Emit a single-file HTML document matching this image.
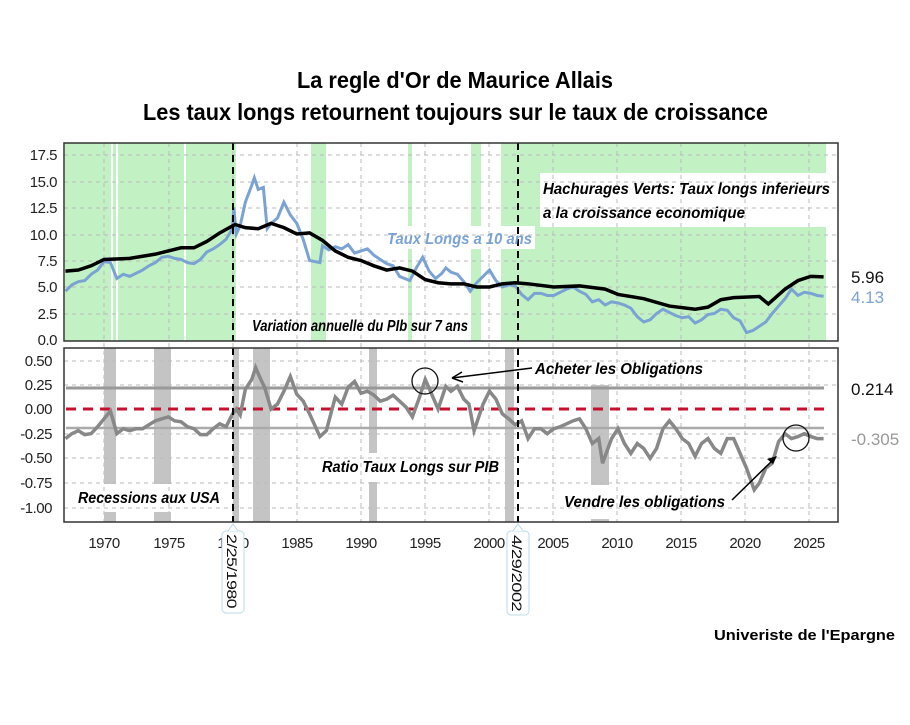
<!DOCTYPE html>
<html><head><meta charset="utf-8"><style>
body{margin:0;background:#fff;width:910px;height:720px;overflow:hidden}
svg{font-family:"Liberation Sans",sans-serif}
.t{font-weight:bold;font-size:23px}
.ax{font-size:15px;fill:#222;letter-spacing:-0.5px}
.it{font-style:italic;font-weight:bold;font-size:16px}
</style></head><body>
<svg width="910" height="720" viewBox="0 0 910 720">
<text class="t" x="297" y="88" textLength="316" lengthAdjust="spacingAndGlyphs">La regle d'Or de Maurice Allais</text>
<text class="t" x="143" y="120" textLength="625" lengthAdjust="spacingAndGlyphs">Les taux longs retournent toujours sur le taux de croissance</text>

<!-- TOP PANEL -->
<g fill="#c2f2c4">
<rect x="65" y="143" width="46" height="198"/><rect x="113" y="143" width="3" height="198"/>
<rect x="118" y="143" width="66" height="198"/><rect x="186" y="143" width="50" height="198"/>
<rect x="311" y="143" width="15" height="198"/><rect x="408" y="143" width="4" height="198"/>
<rect x="471" y="143" width="10" height="198"/><rect x="501" y="143" width="325" height="198"/>
</g>
<rect x="540" y="173" width="292" height="54" fill="#fff"/>
<rect x="385" y="226" width="150" height="23" fill="#fff"/>
<g stroke="#bbb" stroke-dasharray="4,4" stroke-width="1">
<line x1="64" x2="838" y1="155" y2="155"/><line x1="64" x2="838" y1="182" y2="182"/><line x1="64" x2="838" y1="208" y2="208"/><line x1="64" x2="838" y1="235" y2="235"/><line x1="64" x2="838" y1="261" y2="261"/><line x1="64" x2="838" y1="287" y2="287"/><line x1="64" x2="838" y1="314" y2="314"/>
<line x1="104" x2="104" y1="143" y2="522"/><line x1="169" x2="169" y1="143" y2="522"/><line x1="233" x2="233" y1="143" y2="522"/><line x1="297" x2="297" y1="143" y2="522"/><line x1="361" x2="361" y1="143" y2="522"/><line x1="425" x2="425" y1="143" y2="522"/><line x1="489" x2="489" y1="143" y2="522"/><line x1="553" x2="553" y1="143" y2="522"/><line x1="617" x2="617" y1="143" y2="522"/><line x1="681" x2="681" y1="143" y2="522"/><line x1="745" x2="745" y1="143" y2="522"/><line x1="809" x2="809" y1="143" y2="522"/>
</g>
<g transform="matrix(12.85,0,0,-10.6,-795.5,340)" fill="none">
<polyline vector-effect="non-scaling-stroke" stroke="#7aa3d4" stroke-width="3" points="67,4.6 67.5,5.2 68,5.5 68.5,5.6 69,6.2 69.5,6.6 70,7.4 70.5,7.3 71,5.8 71.5,6.2 72,6.0 72.5,6.3 73,6.6 73.5,7.0 74,7.3 74.5,7.8 75,7.9 75.5,7.7 76,7.6 76.5,7.3 77,7.2 77.5,7.6 78,8.3 78.5,8.6 79,9.0 79.5,9.5 80,10.5 80.1,12.5 80.3,10.0 80.6,10.8 81,13.0 81.5,14.6 81.7,15.3 82,14.2 82.4,14.4 82.7,10.5 83,11.0 83.5,11.5 84,13.0 84.5,11.8 85,11.0 85.5,9.5 86,7.5 86.8,7.3 87,8.9 87.5,8.5 88,8.8 88.5,8.6 89,9.0 89.5,8.2 90,8.4 90.5,8.6 91,8.0 91.5,7.6 92,7.2 92.5,7.0 93,6.0 93.8,5.6 94.3,6.8 94.8,7.8 95.3,6.5 95.8,5.8 96.3,6.3 96.6,6.8 97,6.4 97.5,6.2 98,5.5 98.5,4.6 99,5.4 99.5,6.0 100,6.6 100.5,5.6 101,5.0 101.5,5.2 102,5.1 102.5,4.3 103,3.8 103.5,4.4 104,4.4 104.5,4.2 105,4.2 105.5,4.5 106,4.8 106.5,5.0 107,4.6 107.5,4.3 108,3.6 108.5,3.8 109,3.3 109.5,3.6 110,3.5 110.5,3.3 111,3.0 111.5,2.2 112,1.7 112.5,1.9 113,2.5 113.5,2.9 114,2.6 114.5,2.3 115,2.1 115.5,2.2 116,1.6 116.5,1.9 117,2.4 117.5,2.5 118,2.9 118.5,2.8 119,2.1 119.5,1.8 120,0.7 120.5,0.9 121,1.3 121.5,1.7 122,2.5 122.5,3.2 123,3.9 123.5,4.8 124,4.2 124.5,4.5 125,4.4 125.5,4.2 126,4.13"/>
<polyline vector-effect="non-scaling-stroke" stroke="#000" stroke-width="3.5" points="67,6.5 68,6.6 69,7.0 70,7.6 72,7.7 74,8.1 76,8.7 77,8.7 78,9.3 79,10.1 80.2,10.9 81,10.6 82,10.5 83,11.0 84,10.6 85,10.0 86,10.1 87,9.4 88,8.4 89,7.8 90,7.5 91,7.0 92,6.6 93,6.8 94,6.5 95,5.7 96,5.4 97,5.3 98,5.3 99,5.0 100,5.0 101,5.3 102,5.4 103,5.3 105,5.0 107,5.1 109,4.8 110,4.3 112,3.9 114,3.2 116,2.9 117,3.1 118,3.8 119,4.0 121,4.1 121.7,3.4 123,4.8 124,5.6 125,6.0 126,5.96"/>
</g>
<line x1="233" x2="233" y1="143" y2="341" stroke="#000" stroke-width="2" stroke-dasharray="7,5"/>
<line x1="518" x2="518" y1="143" y2="341" stroke="#000" stroke-width="2" stroke-dasharray="7,5"/>
<rect x="64" y="143" width="774" height="198" fill="none" stroke="#333" stroke-width="1.5"/>
<g class="ax" text-anchor="end">
<text x="57" y="160">17.5</text><text x="57" y="187">15.0</text><text x="57" y="213">12.5</text><text x="57" y="240">10.0</text><text x="57" y="266">7.5</text><text x="57" y="292">5.0</text><text x="57" y="319">2.5</text><text x="57" y="345">0.0</text>
</g>
<text class="it" x="543" y="194" textLength="287" lengthAdjust="spacingAndGlyphs">Hachurages Verts: Taux longs inferieurs</text>
<text class="it" x="543" y="218" textLength="202" lengthAdjust="spacingAndGlyphs">a la croissance economique</text>
<text class="it" x="387" y="244" fill="#7aa3d4" font-weight="normal" textLength="145" lengthAdjust="spacingAndGlyphs">Taux Longs a 10 ans</text>
<text class="it" x="252" y="331" textLength="216" lengthAdjust="spacingAndGlyphs">Variation annuelle du PIb sur 7 ans</text>
<text x="851" y="283" font-size="17" fill="#111">5.96</text>
<text x="851" y="303" font-size="17" fill="#7aa3d4">4.13</text>

<!-- BOTTOM PANEL -->
<g fill="#c4c4c4">
<rect x="104" y="348" width="12" height="136"/><rect x="104" y="512" width="12" height="10"/>
<rect x="154" y="348" width="17" height="136"/><rect x="154" y="512" width="17" height="10"/>
<rect x="233" y="348" width="6" height="174"/><rect x="253" y="348" width="17" height="174"/>
<rect x="369" y="348" width="8" height="105"/><rect x="369" y="482" width="8" height="40"/>
<rect x="505" y="348" width="9" height="174"/>
<rect x="591" y="385" width="18" height="100"/><rect x="591" y="519" width="18" height="3"/>
</g>
<g stroke="#bbb" stroke-dasharray="4,4" stroke-width="1">
<line x1="64" x2="838" y1="361" y2="361"/><line x1="64" x2="838" y1="385" y2="385"/><line x1="64" x2="838" y1="434" y2="434"/><line x1="64" x2="838" y1="458" y2="458"/><line x1="64" x2="838" y1="483" y2="483"/><line x1="64" x2="838" y1="508" y2="508"/>
</g>
<line x1="66" x2="824" y1="388" y2="388" stroke="#999" stroke-width="3"/>
<line x1="66" x2="824" y1="428" y2="428" stroke="#aaa" stroke-width="2.5"/>
<line x1="66" x2="824" y1="409" y2="409" stroke="#c8102e" stroke-width="3" stroke-dasharray="10,7"/>
<g transform="matrix(12.85,0,0,-98.6,-795.5,409)" fill="none">
<polyline vector-effect="non-scaling-stroke" stroke="#888" stroke-width="3.5" points="67,-0.3 67.5,-0.25 68,-0.22 68.5,-0.26 69,-0.25 69.5,-0.18 70,-0.1 70.5,-0.02 71,-0.25 71.5,-0.2 72,-0.22 72.5,-0.2 73,-0.2 73.5,-0.16 74,-0.12 74.5,-0.1 75,-0.08 75.5,-0.12 76,-0.13 76.5,-0.18 77,-0.2 77.5,-0.26 78,-0.26 78.5,-0.2 79,-0.15 79.5,-0.18 80,-0.05 80.3,0.0 80.6,-0.06 81,0.2 81.5,0.3 81.8,0.42 82.2,0.3 82.5,0.22 83,0.0 83.5,0.05 84,0.18 84.5,0.33 85,0.15 85.5,0.08 86,-0.05 86.8,-0.28 87.3,-0.22 88,0.12 88.5,0.05 89,0.22 89.5,0.28 90,0.16 90.5,0.18 91,0.14 91.5,0.08 92,0.1 92.5,0.14 93,0.08 93.5,0.02 94,-0.08 94.5,0.1 95,0.3 95.6,0.12 96,0.0 96.6,0.23 97,0.18 97.5,0.23 98,0.1 98.4,0.05 98.8,-0.22 99.5,0.05 100,0.18 100.5,0.1 101,-0.05 101.5,-0.1 102,-0.16 102.5,-0.12 103,-0.3 103.5,-0.2 104,-0.2 104.5,-0.25 105,-0.2 105.5,-0.18 106,-0.15 106.5,-0.12 107,-0.1 107.5,-0.2 108,-0.35 108.5,-0.3 108.8,-0.55 109.5,-0.3 110,-0.2 110.5,-0.35 111,-0.45 111.5,-0.35 112,-0.4 112.5,-0.5 113,-0.4 113.5,-0.2 114,-0.12 114.5,-0.2 115,-0.3 115.5,-0.35 116,-0.48 116.5,-0.35 117,-0.3 117.5,-0.4 118,-0.45 118.5,-0.3 119,-0.3 119.5,-0.45 120,-0.6 120.6,-0.82 121,-0.75 121.5,-0.6 122,-0.55 122.5,-0.33 123,-0.25 123.5,-0.3 124,-0.28 124.5,-0.25 125,-0.28 125.5,-0.3 126,-0.3"/>
</g>
<line x1="233" x2="233" y1="348" y2="522" stroke="#000" stroke-width="2" stroke-dasharray="7,5"/>
<line x1="518" x2="518" y1="348" y2="522" stroke="#000" stroke-width="2" stroke-dasharray="7,5"/>
<circle cx="425" cy="381" r="13" fill="none" stroke="#111" stroke-width="1.3"/>
<circle cx="796" cy="438" r="13" fill="none" stroke="#111" stroke-width="1.3"/>
<line x1="532" y1="368" x2="452" y2="378" stroke="#000" stroke-width="1.5"/>
<path d="M452,378 l10,-6 M452,378 l11,4" stroke="#000" stroke-width="1.5" fill="none"/>
<line x1="732" y1="500" x2="775" y2="458" stroke="#000" stroke-width="1.5"/>
<path d="M777,456 l-10,3 l6,5 z" fill="#000"/>
<rect x="64" y="348" width="774" height="174" fill="none" stroke="#333" stroke-width="1.5"/>
<g class="ax" text-anchor="end">
<text x="52" y="366">0.50</text><text x="52" y="390">0.25</text><text x="52" y="414">0.00</text><text x="52" y="439">-0.25</text><text x="52" y="463">-0.50</text><text x="52" y="488">-0.75</text><text x="52" y="513">-1.00</text>
</g>
<text class="it" x="535" y="374" textLength="168" lengthAdjust="spacingAndGlyphs">Acheter les Obligations</text>
<text class="it" x="322" y="472" textLength="177" lengthAdjust="spacingAndGlyphs">Ratio Taux Longs sur PIB</text>
<text class="it" x="78" y="503" textLength="142" lengthAdjust="spacingAndGlyphs">Recessions aux USA</text>
<text class="it" x="564" y="507" textLength="161" lengthAdjust="spacingAndGlyphs">Vendre les obligations</text>
<text x="851" y="395" font-size="17" fill="#111">0.214</text>
<text x="851" y="445" font-size="17" fill="#999">-0.305</text>
<g class="ax" text-anchor="middle" font-size="16">
<text x="104" y="548">1970</text><text x="169" y="548">1975</text><text x="233" y="548">1980</text><text x="297" y="548">1985</text><text x="361" y="548">1990</text><text x="425" y="548">1995</text><text x="489" y="548">2000</text><text x="553" y="548">2005</text><text x="617" y="548">2010</text><text x="681" y="548">2015</text><text x="745" y="548">2020</text><text x="809" y="548">2025</text>
</g>
<rect x="222" y="531" width="22" height="82" rx="4" fill="#fff" stroke="#b8dbe8"/>
<path d="M228,531 L233,524 L238,531" fill="#fff" stroke="#b8dbe8"/>
<text transform="translate(227,534) rotate(90)" font-size="14" letter-spacing="-0.5" fill="#111" textLength="74" lengthAdjust="spacingAndGlyphs">2/25/1980</text>
<rect x="507" y="531" width="22" height="84" rx="4" fill="#fff" stroke="#b8dbe8"/>
<path d="M513,531 L518,524 L523,531" fill="#fff" stroke="#b8dbe8"/>
<text transform="translate(512,535) rotate(90)" font-size="14" letter-spacing="-0.5" fill="#111" textLength="76" lengthAdjust="spacingAndGlyphs">4/29/2002</text>
<text x="714" y="640" font-size="15" font-weight="bold" textLength="181" lengthAdjust="spacingAndGlyphs">Univeriste de l'Epargne</text>
</svg>
</body></html>
